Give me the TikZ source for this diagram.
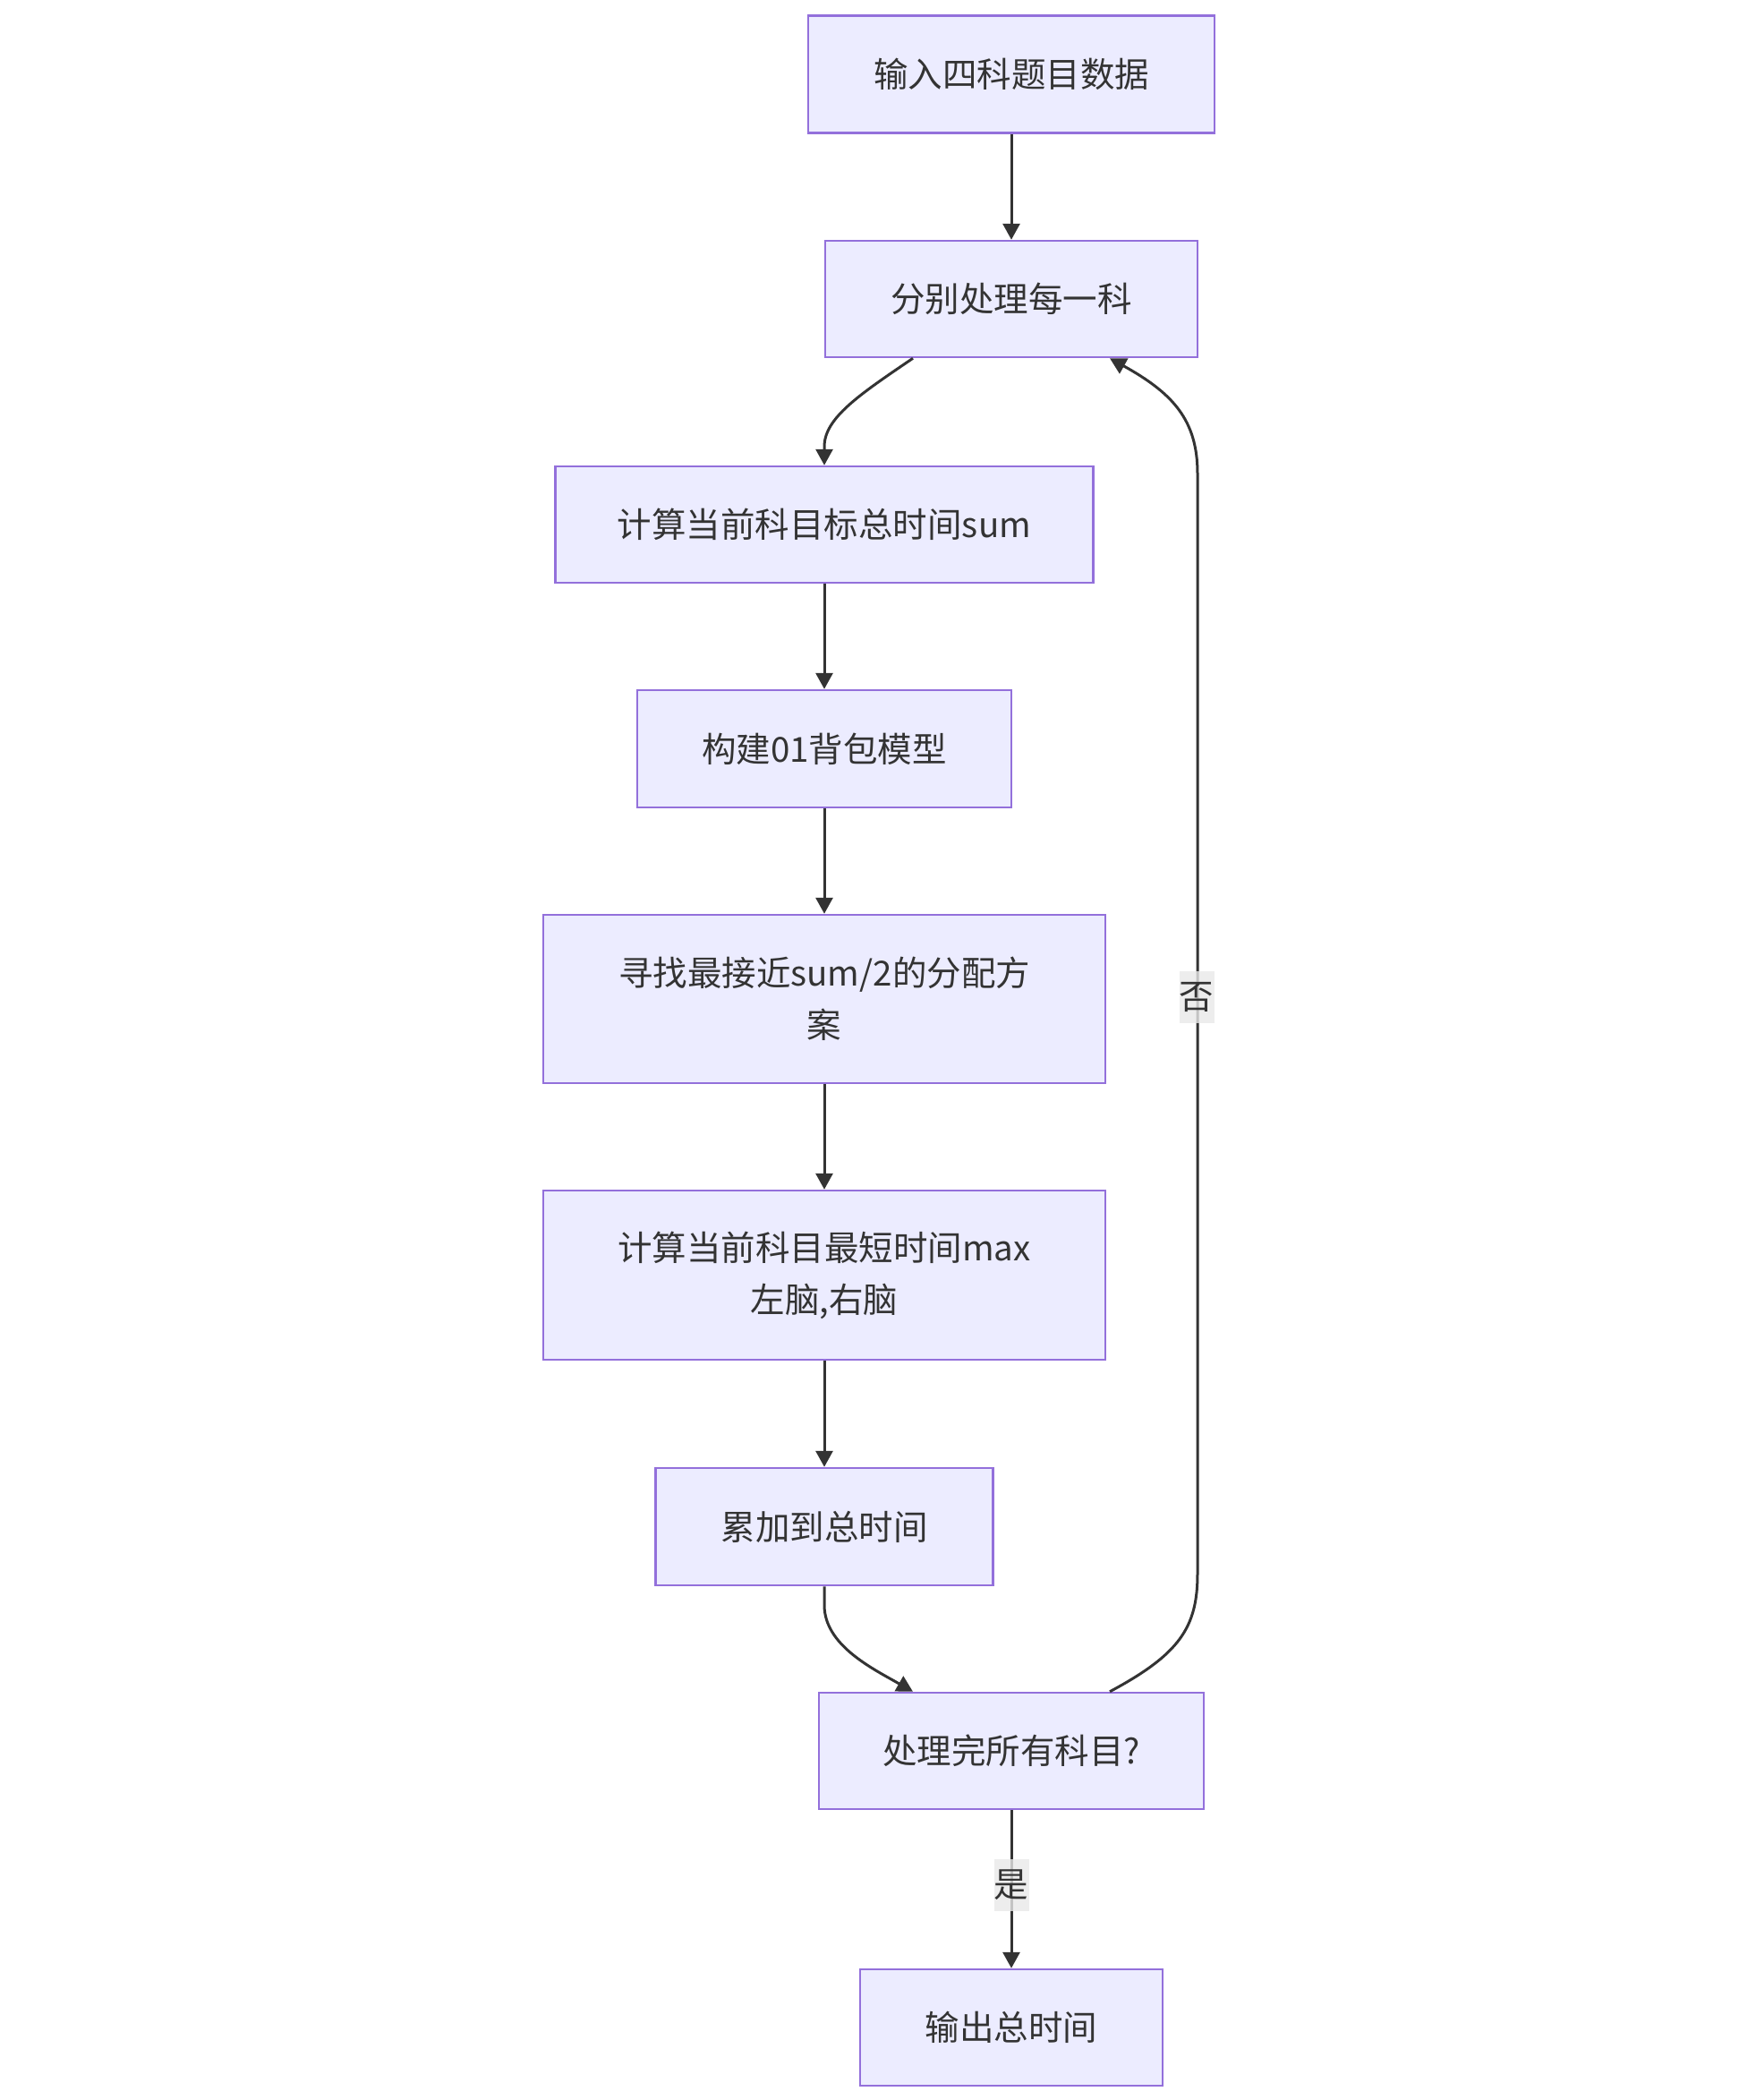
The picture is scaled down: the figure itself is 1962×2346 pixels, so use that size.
\documentclass[tikz,border=0pt]{standalone}
\usepackage{fontspec}
\setmainfont{Noto Sans CJK SC}
\usetikzlibrary{arrows.meta}
\definecolor{nodefill}{HTML}{ECECFF}
\definecolor{nodeborder}{HTML}{9370DB}
\definecolor{edgecol}{HTML}{333333}
\definecolor{labelbg}{HTML}{E8E8E8}
\begin{document}
\begin{tikzpicture}[x=1pt,y=-1pt,
  box/.style={draw=nodeborder, fill=nodefill, line width=2.5pt, text=edgecol,
    font=\fontsize{38.5}{58}\selectfont, align=center, inner sep=0pt},
  edge/.style={draw=edgecol, line width=3pt, -{Triangle[length=18pt,width=19pt]}},
  elabel/.style={fill=labelbg, fill opacity=0.8, text opacity=1, text=edgecol,
    font=\fontsize{38.5}{46}\selectfont, inner sep=0pt, minimum width=39pt, minimum height=58pt}]
\useasboundingbox (0,0) rectangle (1962,2346);

\node[box, minimum width=454pt, minimum height=131pt] (n1) at (1130,83) {输入四科题目数据};
\node[box, minimum width=416pt, minimum height=130pt] (n2) at (1130,334) {分别处理每一科};
\node[box, minimum width=601pt, minimum height=130pt] (n3) at (921,586) {计算当前科目标总时间sum};
\node[box, minimum width=418pt, minimum height=131pt] (n4) at (921,836.5) {构建01背包模型};
\node[box, minimum width=628pt, minimum height=188pt] (n5) at (921,1116) {寻找最接近sum/2的分配方\\案};
\node[box, minimum width=628pt, minimum height=189pt] (n6) at (921,1424.5) {计算当前科目最短时间max\\左脑,右脑};
\node[box, minimum width=377pt, minimum height=131pt] (n7) at (921,1705.5) {累加到总时间};
\node[box, minimum width=430pt, minimum height=130pt] (n8) at (1130,1956) {处理完所有科目?};
\node[box, minimum width=338pt, minimum height=130pt] (n9) at (1130,2265) {输出总时间};

\draw[edge] (n1) -- (n2);
\draw[edge] ([xshift=-110pt]n2.south) .. controls (960,441) and (921,467) .. (921,499) -- (n3.north);
\draw[edge] (n3) -- (n4);
\draw[edge] (n4) -- (n5);
\draw[edge] (n5) -- (n6);
\draw[edge] (n6) -- (n7);
\draw[edge] (n7.south) -- (921,1793) .. controls (921,1838) and (975,1864) .. ([xshift=-110pt]n8.north);
\draw[edge] ([xshift=110pt]n8.north) .. controls (1318,1848) and (1338,1818) .. (1338,1758)
  -- (1338,529) .. controls (1338,469) and (1310,439) .. ([xshift=110pt]n2.south);
\draw[edge] (n8) -- (n9);

\node[elabel] (l1) at (1337,1114) {否};
\node[elabel] (l2) at (1130,2106) {是};
\end{tikzpicture}
\end{document}
